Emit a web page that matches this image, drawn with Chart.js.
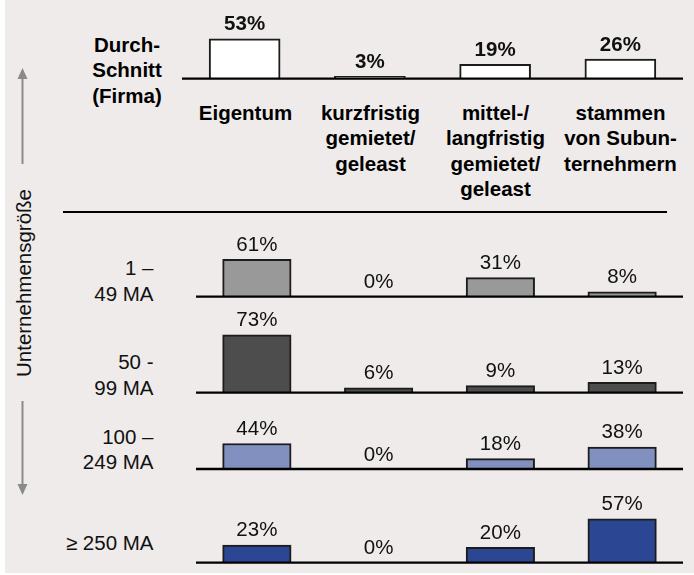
<!DOCTYPE html>
<html>
<head>
<meta charset="utf-8">
<script src="https://cdn.jsdelivr.net/npm/chart.js@4.4.1/dist/chart.umd.min.js"></script>
<style>
  html, body { margin: 0; padding: 0; background: #fff; }
  body { width: 694px; height: 575px; position: relative; overflow: hidden;
         font-family: "Liberation Sans", Arial, sans-serif; color: #111; }
  #panel { position: absolute; left: 5px; top: 0; width: 689px; height: 573px; background: #EEEBEA; }
  canvas { position: absolute; }
  .lbl { position: absolute; font-size: 20.5px; line-height: 25.5px; white-space: nowrap; }
  .bold { font-weight: bold; color: #000; }
  .center { text-align: center; transform: translateX(-50%); }
  .right { text-align: right; transform: translateX(-100%); }
  #sep { position: absolute; left: 63px; top: 211px; width: 604px; height: 2px; background: #000; }
  #vlabel { position: absolute; left: 23.5px; top: 283px; font-size: 20.5px; white-space: nowrap;
            transform: translate(-50%, -50%) rotate(-90deg); color: #111; }
</style>
</head>
<body>
<div id="panel"></div>
<div id="sep"></div>
<svg width="694" height="575" style="position:absolute;left:0;top:0">
  <line x1="22.5" y1="164" x2="22.5" y2="78" stroke="#8a8a8a" stroke-width="2"/>
  <polygon points="22.5,68 17.5,79 27.5,79" fill="#8a8a8a"/>
  <line x1="22.5" y1="401" x2="22.5" y2="486" stroke="#8a8a8a" stroke-width="2"/>
  <polygon points="22.5,495 17.5,484 27.5,484" fill="#8a8a8a"/>
</svg>
<div id="vlabel">Unternehmensgröße</div>
<div id="labels"></div>
<canvas id="cAvg"></canvas>
<canvas id="c1"></canvas>
<canvas id="c2"></canvas>
<canvas id="c3"></canvas>
<canvas id="c4"></canvas>
<script>
// ----- data -----
const categories = [
  ['Eigentum'],
  ['kurzfristig', 'gemietet/', 'geleast'],
  ['mittel-/', 'langfristig', 'gemietet/', 'geleast'],
  ['stammen', 'von Subun-', 'ternehmern']
];
const avgLabel = ['Durch-', 'Schnitt', '(Firma)'];
const avgValues = [53, 3, 19, 26];

const sizeLabels = [['1 –', '49 MA'], ['50 -', '99 MA'], ['100 –', '249 MA'], ['≥ 250 MA']];
const size1to49 = [61, 0, 31, 8];
const size50to99 = [73, 6, 9, 13];
const size100to249 = [44, 0, 18, 38];
const size250plus = [23, 0, 20, 57];

// ----- text labels -----
const labelsEl = document.getElementById('labels');
function addLabel(lines, x, yCenter, cls) {
  const d = document.createElement('div');
  d.className = 'lbl ' + cls;
  d.style.left = x + 'px';
  d.style.top = (yCenter - 12.75) + 'px';
  d.innerHTML = lines.join('<br>');
  labelsEl.appendChild(d);
}
const catCenters = [245.5, 370.5, 495.5, 620.5];
categories.forEach((c, i) => addLabel(c, catCenters[i], 112.5, 'bold center'));
addLabel(avgLabel, 127, 44.5, 'bold center');
const rowLabelY = [268, 362, 436.5, 543];
sizeLabels.forEach((l, i) => addLabel(l, 153.5, rowLabelY[i], 'right'));

// ----- charts -----
const baselinePlugin = {
  id: 'baseline',
  afterDatasetsDraw(chart) {
    const { ctx, chartArea, scales } = chart;
    const y = scales.y.getPixelForValue(0);
    ctx.save();
    ctx.strokeStyle = '#000';
    ctx.lineWidth = 2.3;
    ctx.beginPath();
    ctx.moveTo(chartArea.left, y);
    ctx.lineTo(chartArea.right, y);
    ctx.stroke();
    ctx.restore();
  }
};

const valueLabelPlugin = {
  id: 'valueLabels',
  afterDatasetsDraw(chart, args, opts) {
    const { ctx } = chart;
    const meta = chart.getDatasetMeta(0);
    const data = chart.data.datasets[0].data;
    ctx.save();
    ctx.font = opts.font;
    ctx.fillStyle = opts.color;
    ctx.textAlign = 'center';
    ctx.textBaseline = 'alphabetic';
    meta.data.forEach((bar, i) => {
      ctx.fillText(data[i] + '%', bar.x, bar.y - 8.5);
    });
    ctx.restore();
  }
};

function makeRow(id, values, layout) {
  const el = document.getElementById(id);
  el.width = layout.width;
  el.height = layout.height;
  el.style.left = layout.left + 'px';
  el.style.top = layout.top + 'px';
  new Chart(el, {
    type: 'bar',
    data: {
      labels: categories.map(c => c.join(' ')),
      datasets: [{
        data: values,
        backgroundColor: layout.color,
        borderColor: '#1c1c1c',
        borderWidth: 2,
        barThickness: layout.barWidth
      }]
    },
    options: {
      responsive: false,
      animation: false,
      devicePixelRatio: 1,
      layout: { padding: { top: 0, bottom: layout.padBottom, left: 0, right: 0 } },
      plugins: {
        legend: { display: false },
        tooltip: { enabled: false },
        valueLabels: { font: layout.font, color: '#111' }
      },
      scales: {
        x: { display: false },
        y: { display: false, min: 0, max: layout.yMax }
      }
    },
    plugins: [valueLabelPlugin, baselinePlugin]
  });
}

const boldFont = 'bold 20.5px "Liberation Sans", Arial, sans-serif';
const regFont = '20.5px "Liberation Sans", Arial, sans-serif';

makeRow('cAvg', avgValues, { left: 182, top: 0, width: 501, height: 81, padBottom: 2.3, yMax: 104.9, color: '#ffffff', barWidth: 71, font: boldFont });
makeRow('c1', size1to49, { left: 196, top: 214, width: 487, height: 85, padBottom: 2.3, yMax: 134.7, color: '#999999', barWidth: 68.5, font: regFont });
makeRow('c2', size50to99, { left: 196, top: 300, width: 487, height: 95, padBottom: 2.3, yMax: 116.9, color: '#4d4d4d', barWidth: 68.5, font: regFont });
makeRow('c3', size100to249, { left: 196, top: 396, width: 487, height: 75, padBottom: 2, yMax: 125.9, color: '#8190bf', barWidth: 68.5, font: regFont });
makeRow('c4', size250plus, { left: 196, top: 472, width: 487, height: 93, padBottom: 2.3, yMax: 117.6, color: '#2b4692', barWidth: 68.5, font: regFont });
</script>
</body>
</html>
